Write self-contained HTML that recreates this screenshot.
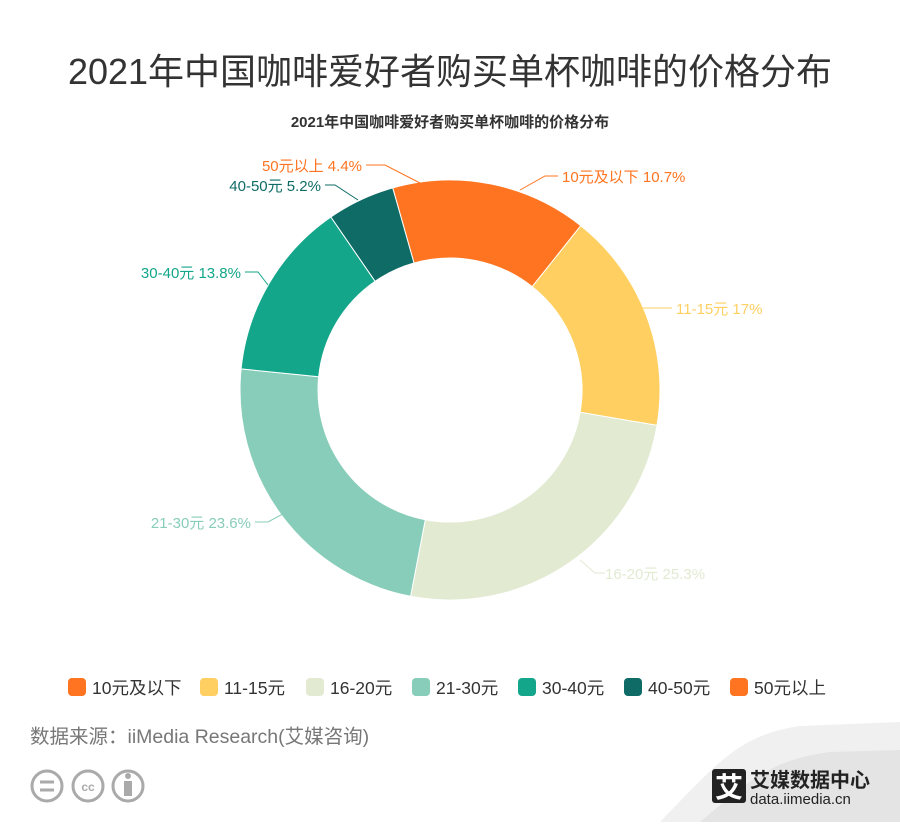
<!DOCTYPE html>
<html><head><meta charset="utf-8"><style>
body{margin:0;width:900px;height:822px;background:#fff;overflow:hidden;font-family:"Liberation Sans","Noto Sans CJK SC",sans-serif;}
</style></head><body>
<svg width="900" height="822" xmlns="http://www.w3.org/2000/svg" style="font-family:'Liberation Sans','Noto Sans CJK SC',sans-serif">
<text x="450" y="84" text-anchor="middle" font-size="36" fill="#333">2021年中国咖啡爱好者购买单杯咖啡的价格分布</text>
<text x="450" y="127" text-anchor="middle" font-size="15" font-weight="bold" fill="#333">2021年中国咖啡爱好者购买单杯咖啡的价格分布</text>
<g stroke="#fff" stroke-width="1">
<path d="M392.7,187.9 A210,210 0 0 1 580.8,225.7 L532.2,286.7 A132,132 0 0 0 414,263Z" fill="#FF7420"/>
<path d="M580.8,225.7 A210,210 0 0 1 657,425.4 L580.1,412.3 A132,132 0 0 0 532.2,286.7Z" fill="#FFD061"/>
<path d="M657,425.4 A210,210 0 0 1 410.6,596.3 L425.3,519.7 A132,132 0 0 0 580.1,412.3Z" fill="#E2EAD2"/>
<path d="M410.6,596.3 A210,210 0 0 1 241.1,368.9 L318.7,376.7 A132,132 0 0 0 425.3,519.7Z" fill="#88CDB9"/>
<path d="M241.1,368.9 A210,210 0 0 1 330.9,217 L375.1,281.3 A132,132 0 0 0 318.7,376.7Z" fill="#13A68A"/>
<path d="M330.9,217 A210,210 0 0 1 392.7,187.9 L414,263 A132,132 0 0 0 375.1,281.3Z" fill="#0E6B66"/>
</g>
<g fill="none" stroke-width="1">
<polyline points="520,190 545,176 558,176" stroke="#FF7420"/>
<polyline points="630,308 660,308 672,308" stroke="#FFD061"/>
<polyline points="580,560 595,573 605,573" stroke="#E2EAD2"/>
<polyline points="290,510 268,522 255,522" stroke="#88CDB9"/>
<polyline points="268,285 258,272 245,272" stroke="#13A68A"/>
<polyline points="358,200 335,185 325,185" stroke="#0E6B66"/>
<polyline points="420,183 385,165 366,165" stroke="#FF7420"/>
</g>
<g font-size="15">
<text x="562" y="182" fill="#FF7420">10元及以下 10.7%</text>
<text x="676" y="314" fill="#FFD061">11-15元 17%</text>
<text x="605" y="579" fill="#E2EAD2">16-20元 25.3%</text>
<text x="251" y="528" text-anchor="end" fill="#88CDB9">21-30元 23.6%</text>
<text x="241" y="278" text-anchor="end" fill="#13A68A">30-40元 13.8%</text>
<text x="321" y="191" text-anchor="end" fill="#0E6B66">40-50元 5.2%</text>
<text x="362" y="171" text-anchor="end" fill="#FF7420">50元以上 4.4%</text>
</g>
<g font-size="17.5" fill="#333">
<rect x="68" y="678" width="18" height="18" rx="4" fill="#FF7420"/><text x="92" y="694">10元及以下</text>
<rect x="200" y="678" width="18" height="18" rx="4" fill="#FFD061"/><text x="224" y="694">11-15元</text>
<rect x="306" y="678" width="18" height="18" rx="4" fill="#E2EAD2"/><text x="330" y="694">16-20元</text>
<rect x="412" y="678" width="18" height="18" rx="4" fill="#88CDB9"/><text x="436" y="694">21-30元</text>
<rect x="518" y="678" width="18" height="18" rx="4" fill="#13A68A"/><text x="542" y="694">30-40元</text>
<rect x="624" y="678" width="18" height="18" rx="4" fill="#0E6B66"/><text x="648" y="694">40-50元</text>
<rect x="730" y="678" width="18" height="18" rx="4" fill="#FF7420"/><text x="754" y="694">50元以上</text>
</g>
<text x="30" y="743" font-size="19.5" fill="#777">数据来源：iiMedia Research(艾媒咨询)</text>
<g fill="none" stroke="#aaa" stroke-width="3">
<circle cx="47" cy="786" r="15"/><circle cx="88" cy="786" r="15"/><circle cx="128" cy="786" r="15"/>
</g>
<g stroke="#aaa" stroke-width="3"><line x1="40" y1="782" x2="54" y2="782"/><line x1="40" y1="790" x2="54" y2="790"/></g>
<text x="88" y="791" font-size="12" font-weight="bold" fill="#aaa" text-anchor="middle">cc</text>
<circle cx="128" cy="776" r="3" fill="#aaa"/><rect x="124" y="781" width="8" height="15" fill="#aaa"/>
<path d="M660,822 C720,760 740,735 800,726 L900,722 L900,822Z" fill="#f0f0f0"/>
<path d="M700,822 C750,780 770,760 830,752 L900,750 L900,822Z" fill="#e4e4e4"/>
<rect x="712" y="769" width="34" height="34" rx="3" fill="#222"/>
<text x="729" y="797" font-size="28" font-weight="bold" fill="#fff" text-anchor="middle">艾</text>
<text x="750" y="787" font-size="20" font-weight="bold" fill="#222">艾媒数据中心</text>
<text x="750" y="804" font-size="15" fill="#222">data.iimedia.cn</text>
</svg>
</body></html>
